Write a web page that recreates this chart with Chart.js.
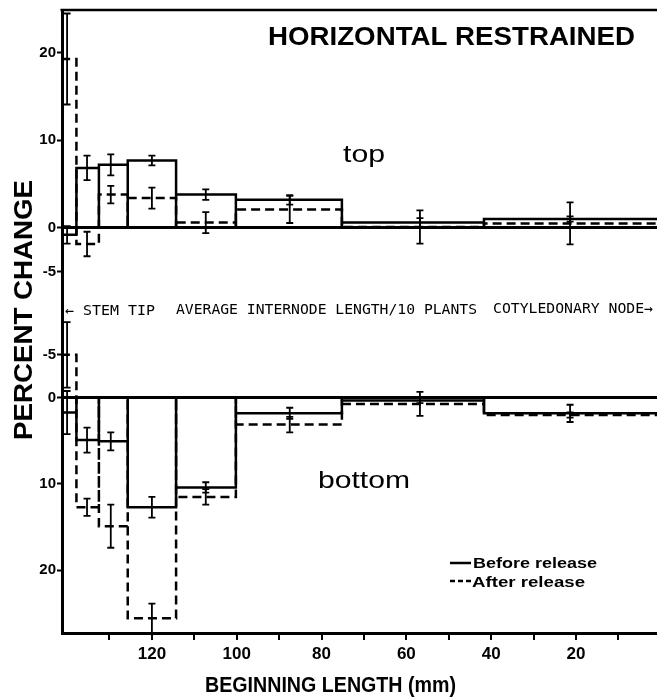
<!DOCTYPE html>
<html><head><meta charset="utf-8">
<script src="https://cdn.jsdelivr.net/npm/chart.js@4.4.1/dist/chart.umd.min.js"></script>
<style>html,body{margin:0;padding:0;background:#fff;overflow:hidden}</style>
</head><body>
<canvas id="c" width="657" height="698"></canvas>
<script>
// ---- data ----
const binEdges = [141.2, 137.8, 132.5, 125.7, 114.3, 100.2, 75.2, 41.7, 0];   // mm, internode boundaries
const errX = [140.0, 135.3, 129.7, 120.0, 107.3, 87.5, 56.8, 21.4];           // mm, error bar positions
const topBefore = [-0.8, 6.85, 7.2, 7.7, 3.8, 3.2, 0.6, 1.0];
const topBeforeErr = [1.0, 1.4, 1.2, 0.55, 0.6, 0.55, 0.5, 0.3];
const topAfter = [19.3, -1.85, 3.8, 3.4, 0.6, 2.1, 0.1, 0.5];
const topAfterErr = [5.2, 1.4, 1.0, 1.2, 1.2, 1.55, 1.9, 2.4];
const bottomBefore = [1.7, 4.9, 5.05, 12.7, 10.4, 1.8, 0.3, 1.8];
const bottomBeforeErr = [2.5, 1.45, 1.05, 1.2, 0.6, 0.65, 0.3, 1.0];
const bottomAfter = [-5.0, 12.7, 14.9, 25.6, 11.5, 3.1, 0.7, 2.0];
const bottomAfterErr = [3.8, 1.0, 2.5, 1.7, 0.9, 0.9, 1.4, 0.3];
const xTickValues = [130, 120, 110, 100, 90, 80, 70, 60, 50, 40, 30, 20, 10];
const xTickLabels = ['', '120', '', '100', '', '80', '', '60', '', '40', '', '20', ''];
const topTicks = [20, 10, 0, -5];
const bottomTicks = [-5, 0, 10, 20];
const seriesNames = ['Before release', 'After release'];

function outline(vals) {
  const pts = [];
  for (let i = 0; i < vals.length; i++) {
    pts.push({x: binEdges[i], y: 0}, {x: binEdges[i], y: vals[i]},
             {x: binEdges[i + 1], y: vals[i]}, {x: binEdges[i + 1], y: 0});
  }
  return pts;
}

const FONT = "'Liberation Sans', Arial, sans-serif";
const DASH = [9, 5];

function ds(label, vals, axis, dashed) {
  return {label, data: outline(vals), yAxisID: axis, showLine: true, borderColor: '#000',
    borderWidth: 2.5, borderDash: dashed ? DASH : [], pointRadius: 0, pointHoverRadius: 0,
    fill: false, tension: 0};
}

function fitText(ctx, text, left, baseline, width, font) {
  ctx.save();
  ctx.font = font;
  ctx.textAlign = 'left';
  ctx.textBaseline = 'alphabetic';
  const w = ctx.measureText(text).width;
  ctx.translate(left, baseline);
  ctx.scale(width / w, 1);
  ctx.fillStyle = '#000';
  ctx.fillText(text, 0, 0);
  ctx.restore();
}

const errPlugin = {
  id: 'errbars',
  afterDatasetsDraw(chart) {
    const ctx = chart.ctx, xs = chart.scales.x;
    const a = chart.chartArea;
    ctx.save();
    ctx.beginPath(); ctx.rect(a.left, a.top, a.right - a.left, a.bottom - a.top); ctx.clip();
    ctx.strokeStyle = '#000'; ctx.lineWidth = 1.8; ctx.setLineDash([]);
    const sets = [['yTop', topBefore, topBeforeErr], ['yTop', topAfter, topAfterErr],
                  ['yBot', bottomBefore, bottomBeforeErr], ['yBot', bottomAfter, bottomAfterErr]];
    for (const [axis, vals, errs] of sets) {
      const ys = chart.scales[axis];
      for (let i = 0; i < vals.length; i++) {
        const x = xs.getPixelForValue(errX[i]);
        const y1 = ys.getPixelForValue(vals[i] - errs[i]);
        const y2 = ys.getPixelForValue(vals[i] + errs[i]);
        ctx.beginPath();
        ctx.moveTo(x, y1); ctx.lineTo(x, y2);
        ctx.moveTo(x - 3.5, y1); ctx.lineTo(x + 3.5, y1);
        ctx.moveTo(x - 3.5, y2); ctx.lineTo(x + 3.5, y2);
        ctx.stroke();
      }
    }
    ctx.restore();
  },
  afterDraw(chart) {
    const ctx = chart.ctx, a = chart.chartArea;
    ctx.save();
    // top frame line
    ctx.strokeStyle = '#000'; ctx.lineWidth = 2.5;
    ctx.beginPath(); ctx.moveTo(a.left - 1.5, a.top); ctx.lineTo(a.right, a.top); ctx.stroke();
    // titles and annotations
    fitText(ctx, 'HORIZONTAL RESTRAINED', 268, 45, 367, 'bold 25px ' + FONT);
    fitText(ctx, 'top', 343, 162, 42, '23px ' + FONT);
    fitText(ctx, 'bottom', 318, 488, 92, '24px ' + FONT);
    const mono = "14px 'DejaVu Sans Mono', monospace";
    fitText(ctx, '\u2190 STEM TIP', 65, 315, 90, mono);
    fitText(ctx, 'AVERAGE INTERNODE LENGTH/10 PLANTS', 176, 314, 301, mono);
    fitText(ctx, 'COTYLEDONARY NODE\u2192', 493, 313, 160, mono);
    // legend
    ctx.strokeStyle = '#000'; ctx.lineWidth = 2.5;
    ctx.beginPath(); ctx.moveTo(450, 563); ctx.lineTo(471, 563); ctx.stroke();
    ctx.setLineDash([5, 3]);
    ctx.beginPath(); ctx.moveTo(450, 581); ctx.lineTo(472, 581); ctx.stroke();
    ctx.setLineDash([]);
    fitText(ctx, seriesNames[0], 473, 568, 124, 'bold 15px ' + FONT);
    fitText(ctx, seriesNames[1], 472, 587, 113, 'bold 15px ' + FONT);
    // axis titles
    fitText(ctx, 'BEGINNING LENGTH (mm)', 205, 692, 251, 'bold 22px ' + FONT);
    ctx.save();
    ctx.translate(32, 440);
    ctx.rotate(-Math.PI / 2);
    fitText(ctx, 'PERCENT CHANGE', 0, 0, 260, 'bold 26px ' + FONT);
    ctx.restore();
    ctx.restore();
  }
};

function yAxis(ticks, min, max, weight, stackWeight, reverse) {
  return {
    type: 'linear', position: 'left', stack: 'panels', stackWeight, weight,
    min, max, reverse,
    afterBuildTicks: s => { s.ticks = ticks.map(v => ({value: v})); },
    afterFit: s => { s.width = 62; },
    ticks: {color: '#000', font: {family: FONT, size: 15, weight: 'bold'}, padding: 1, autoSkip: false},
    grid: {
      drawOnChartArea: true,
      color: c => (c.tick && c.tick.value === 0) ? '#000' : 'rgba(0,0,0,0)',
      lineWidth: 3, tickColor: '#000', tickWidth: 2, tickLength: 5
    },
    border: {color: '#000', width: 3}
  };
}

new Chart(document.getElementById('c'), {
  type: 'scatter',
  data: {
    datasets: [
      ds(seriesNames[0], topBefore, 'yTop', false),
      ds(seriesNames[1], topAfter, 'yTop', true),
      ds(seriesNames[0], bottomBefore, 'yBot', false),
      ds(seriesNames[1], bottomAfter, 'yBot', true)
    ]
  },
  options: {
    responsive: false, maintainAspectRatio: false, animation: false,
    layout: {padding: {top: 7, left: 0, right: 0, bottom: 0}},
    plugins: {legend: {display: false}, tooltip: {enabled: false}, title: {display: false}},
    scales: {
      x: {
        type: 'linear', reverse: true, min: 0.9, max: 141.2, position: 'bottom',
        afterBuildTicks: s => { s.ticks = xTickValues.map(v => ({value: v})); },
        afterFit: s => { s.height = 65; },
        ticks: {autoSkip: false, maxRotation: 0, color: '#000', padding: 4,
          font: {family: FONT, size: 17, weight: 'bold'},
          callback: (v, i) => xTickLabels[i]},
        grid: {drawOnChartArea: false, color: '#000', tickLength: 7, lineWidth: 2},
        border: {color: '#000', width: 3}
      },
      yBot: yAxis(bottomTicks, -10.6, 27.3, 0, 328, true),
      yTop: yAxis(topTicks, -9, 24.9, 1, 298, false)
    }
  },
  plugins: [errPlugin]
});
</script>
</body></html>
